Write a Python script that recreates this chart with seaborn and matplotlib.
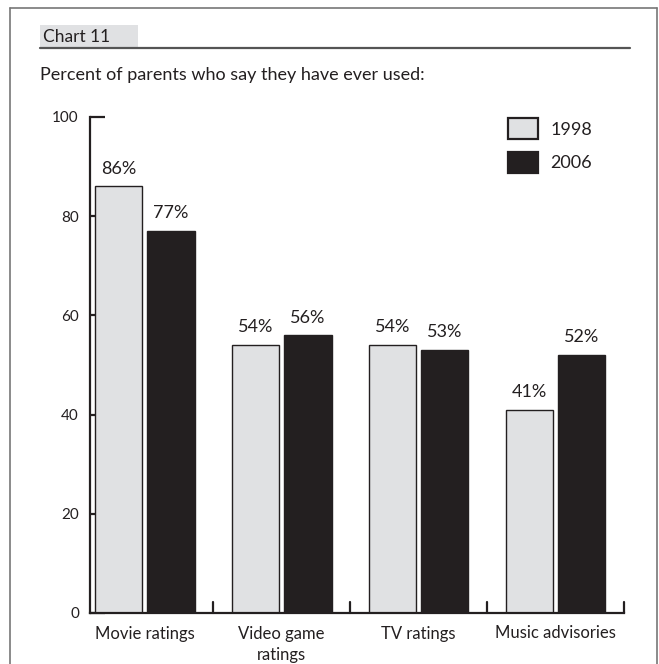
import matplotlib
matplotlib.use("Agg")
import matplotlib.pyplot as plt
from matplotlib.patches import Rectangle
from matplotlib.lines import Line2D
import numpy as np
import pandas as pd
import seaborn as sns

## --- data
categories = ["Movie ratings", "Video game\nratings", "TV ratings", "Music advisories"]
years = ["1998", "2006"]
pct_1998 = [86, 54, 54, 41]
pct_2006 = [77, 56, 53, 52]
y_ticks = [0, 20, 40, 60, 80, 100]

df = pd.DataFrame({
    "category": categories * 2,
    "year": [years[0]] * 4 + [years[1]] * 4,
    "pct": pct_1998 + pct_2006,
})

sns.set_theme(style="white")
plt.rcParams["font.family"] = ["Lato", "DejaVu Sans"]

ink = "#231f20"
light = "#e0e1e3"

fig = plt.figure(figsize=(6.59, 6.64), dpi=100)
W, H = 659.0, 664.0

## --- axes placed in pixel terms
ax = fig.add_axes([90 / W, (H - 613) / H, (624 - 90) / W, (613 - 117) / H])

sns.barplot(data=df, x="category", y="pct", hue="year", order=categories,
            hue_order=years, palette=[light, ink], width=0.766, gap=0.1,
            edgecolor=ink, linewidth=1.0, saturation=1, ax=ax)

ax.set_xlim(-0.4, 3.5)
ax.set_ylim(0, 100)
ax.set_xlabel("")
ax.set_ylabel("")

## --- value labels
for cont in ax.containers:
    ax.bar_label(cont, labels=[f"{int(v)}%" for v in cont.datavalues],
                 padding=7, fontsize=13, color=ink)

## --- spines and ticks
sns.despine(ax=ax, top=True, right=True)
for s in ["left", "bottom"]:
    ax.spines[s].set_color(ink)
    ax.spines[s].set_linewidth(1.6)
ax.set_yticks(y_ticks)
ax.tick_params(axis="y", direction="in", length=11, width=1.6, color=ink,
               labelsize=11, labelcolor=ink, pad=8, left=True)
ax.set_xticks(range(len(categories)))
ax.set_xticklabels(categories, fontsize=12, color=ink, linespacing=1.45)
ax.tick_params(axis="x", length=0, pad=9)
for xs in [0.5, 1.5, 2.5, 3.5]:
    ax.plot([xs, xs], [0, 2.2], color=ink, lw=1.6, clip_on=False)

## --- legend
handles = [Rectangle((0, 0), 1, 1, facecolor=light, edgecolor=ink, lw=1.6),
           Rectangle((0, 0), 1, 1, facecolor=ink, edgecolor=ink, lw=1.6)]
ax.legend(handles, years, loc="upper left", bbox_to_anchor=(0.752, 1.03),
          frameon=False, fontsize=13, handlelength=1.65, handleheight=1.4,
          handletextpad=0.7, labelspacing=0.7, labelcolor=ink)

## --- header: outer frame, chart tag and subtitle
fig.add_artist(Line2D([10 / W, 10 / W], [0, 1 - 8 / H], color="#777777", lw=1.2))
fig.add_artist(Line2D([10 / W, 657 / W], [1 - 8 / H, 1 - 8 / H], color="#777777", lw=1.2))
fig.add_artist(Line2D([657 / W, 657 / W], [0, 1 - 8 / H], color="#777777", lw=1.2))
fig.add_artist(Rectangle((40 / W, 1 - 47 / H), 98 / W, 22 / H,
                         facecolor=light, edgecolor="none"))
fig.add_artist(Line2D([40 / W, 630 / W], [1 - 48 / H, 1 - 48 / H], color="#555555", lw=1.6))
fig.text(43 / W, 1 - 37 / H, "Chart 11", fontsize=12.5, color=ink, va="center")
fig.text(40 / W, 1 - 75 / H, "Percent of parents who say they have ever used:",
         fontsize=13, color=ink, va="center")

fig.savefig("out.png", dpi=100)
